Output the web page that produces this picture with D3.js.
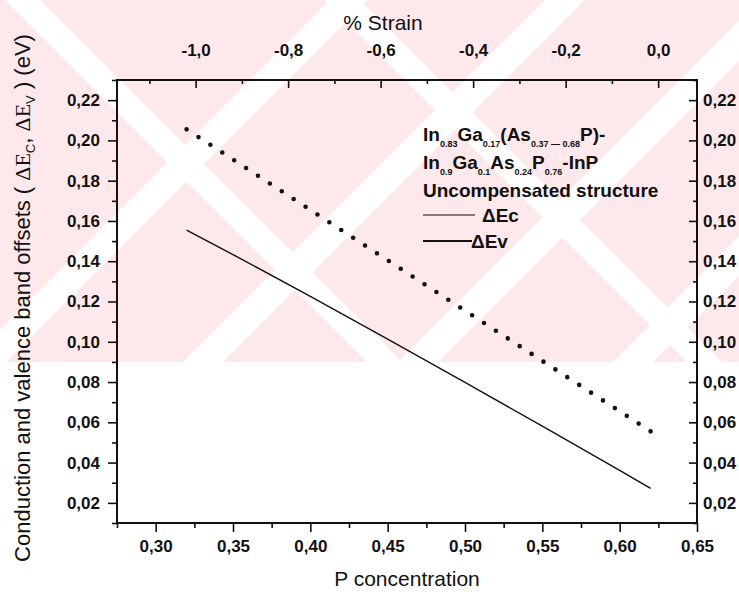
<!DOCTYPE html>
<html>
<head>
<meta charset="utf-8">
<script src="https://cdn.jsdelivr.net/npm/d3@7"></script>
<style>
  body { margin: 0; background: #fff; }
  svg { display: block; }
</style>
</head>
<body>
<svg id="chart" width="739" height="596"></svg>
<script>
// Phosphorus concentration in the well material and the band offsets it gives
const pConcentration = [0.32, 0.35, 0.40, 0.45, 0.50, 0.55, 0.60, 0.62];
const deltaEc = [0.1555, 0.1433, 0.1226, 0.1013, 0.0798, 0.0581, 0.0361, 0.0272];
const deltaEv = [0.2055, 0.1905, 0.1655, 0.1405, 0.1155, 0.0905, 0.0655, 0.0555];

// Axis ticks
const xTicks = [0.30, 0.35, 0.40, 0.45, 0.50, 0.55, 0.60, 0.65];
const yTicks = [0.02, 0.04, 0.06, 0.08, 0.10, 0.12, 0.14, 0.16, 0.18, 0.20, 0.22];
const strainTicks = [-1.0, -0.8, -0.6, -0.4, -0.2, 0.0];
const xDomain = [0.275, 0.65];
const yDomain = [0.01, 0.23];
const strainDomain = [-1.17, 0.084];

const svg = d3.select("#chart");
const W = 739, H = 596;
const plot = { left: 117, right: 697, top: 80, bottom: 523 };

const x = d3.scaleLinear().domain(xDomain).range([plot.left, plot.right]);
const y = d3.scaleLinear().domain(yDomain).range([plot.bottom, plot.top]);
const strain = d3.scaleLinear().domain(strainDomain).range([plot.left, plot.right]);

const locale = d3.formatLocale({ decimal: ",", thousands: ".", grouping: [3], currency: ["", ""], minus: "-" });
const f2 = locale.format(".2f");
const f1 = locale.format(".1f");

const SANS = "'Liberation Sans', Arial, Helvetica, sans-serif";
const SERIF = "'Liberation Serif', 'Times New Roman', serif";

// ---- background watermark band ----
const wm = svg.append("g");
wm.append("clipPath").attr("id", "wmclip")
  .append("rect").attr("x", 0).attr("y", 0).attr("width", W).attr("height", 362);
const wmg = wm.append("g").attr("clip-path", "url(#wmclip)");
wmg.append("rect").attr("x", 0).attr("y", 0).attr("width", W).attr("height", 362).attr("fill", "#fde8ec");
// white diagonal gaps ("/" : x + y = c, "\" : y - x = d)
const slashGaps = [[330, 368], [545, 585], [760, 800], [975, 1015]];
const backGaps = [[-40, -5], [-360, -325]];
slashGaps.forEach(([c0, c1]) => {
  wmg.append("polygon").attr("fill", "#fff")
    .attr("points", [[c0, 0], [c1, 0], [c1 - 800, 800], [c0 - 800, 800]].map(p => p.join(",")).join(" "));
});
backGaps.forEach(([d0, d1]) => {
  wmg.append("polygon").attr("fill", "#fff")
    .attr("points", [[-d0, 0], [-d1, 0], [800 - d1, 800], [800 - d0, 800]].map(p => p.join(",")).join(" "));
});

// ---- axes ----
const tickFont = sel => sel.selectAll("text")
  .attr("font-family", SANS).attr("font-size", 17).attr("font-weight", "bold").attr("fill", "#111");
const cleanAxis = sel => { sel.select(".domain").remove(); sel.selectAll("line").attr("stroke", "#111").attr("stroke-width", 1.6); };

// bottom
svg.append("g").attr("transform", `translate(0,${plot.bottom})`)
  .call(d3.axisBottom(x).tickValues(d3.range(0.275, 0.651, 0.05)).tickSize(5).tickFormat(""))
  .call(cleanAxis);
svg.append("g").attr("transform", `translate(0,${plot.bottom})`)
  .call(d3.axisBottom(x).tickValues(xTicks).tickSize(9).tickPadding(8).tickFormat(f2))
  .call(cleanAxis).call(tickFont);

// left
svg.append("g").attr("transform", `translate(${plot.left},0)`)
  .call(d3.axisLeft(y).tickValues(d3.range(0.01, 0.231, 0.02)).tickSize(5).tickFormat(""))
  .call(cleanAxis);
svg.append("g").attr("transform", `translate(${plot.left},0)`)
  .call(d3.axisLeft(y).tickValues(yTicks).tickSize(9).tickPadding(8).tickFormat(f2))
  .call(cleanAxis).call(tickFont);

// right (ticks pointing inward)
svg.append("g").attr("transform", `translate(${plot.right},0)`)
  .call(d3.axisRight(y).tickValues(d3.range(0.01, 0.231, 0.02)).tickSizeInner(-4).tickSizeOuter(0).tickFormat(""))
  .call(cleanAxis);
svg.append("g").attr("transform", `translate(${plot.right},0)`)
  .call(d3.axisRight(y).tickValues(yTicks).tickSizeInner(-8).tickSizeOuter(0).tickPadding(6).tickFormat(f2))
  .call(cleanAxis).call(tickFont);

// top: strain (ticks pointing inward)
svg.append("g").attr("transform", `translate(0,${plot.top})`)
  .call(d3.axisTop(strain).tickValues(d3.range(-1.1, 0.05, 0.2)).tickSizeInner(-4).tickSizeOuter(0).tickFormat(""))
  .call(cleanAxis);
svg.append("g").attr("transform", `translate(0,${plot.top})`)
  .call(d3.axisTop(strain).tickValues(strainTicks).tickSizeInner(-8).tickSizeOuter(0).tickPadding(24).tickFormat(f1))
  .call(cleanAxis).call(tickFont);

// frame
svg.append("rect")
  .attr("x", plot.left).attr("y", plot.top)
  .attr("width", plot.right - plot.left).attr("height", plot.bottom - plot.top)
  .attr("fill", "none").attr("stroke", "#111").attr("stroke-width", 2);

// ---- axis titles ----
svg.append("text").attr("x", 407).attr("y", 586).attr("text-anchor", "middle")
  .attr("font-family", SANS).attr("font-size", 21).attr("fill", "#111").text("P concentration");
svg.append("text").attr("x", 383).attr("y", 30).attr("text-anchor", "middle")
  .attr("font-family", SANS).attr("font-size", 21).attr("fill", "#111").text("% Strain");

const yt = svg.append("text")
  .attr("transform", "translate(30,298) rotate(-90)")
  .attr("text-anchor", "middle")
  .attr("font-family", SANS).attr("font-size", 22).attr("fill", "#111");
yt.append("tspan").text("Conduction and valence band offsets ( ");
yt.append("tspan").attr("font-family", SERIF).text("ΔE");
yt.append("tspan").attr("font-size", 13).attr("dy", 5).text("C");
yt.append("tspan").attr("dy", -5).text(", ");
yt.append("tspan").attr("font-family", SERIF).text("ΔE");
yt.append("tspan").attr("font-size", 13).attr("dy", 5).text("V");
yt.append("tspan").attr("dy", -5).text(" ) (eV)");

// ---- data lines ----
const line = d3.line().x(d => x(d[0])).y(d => y(d[1]));

svg.append("path")
  .datum(pConcentration.map((p, i) => [p, deltaEc[i]]))
  .attr("d", line).attr("fill", "none").attr("stroke", "#111").attr("stroke-width", 1.4);

// valence band offset drawn as a round-dotted line, 40 dots end to end
const ev = svg.append("path")
  .datum(pConcentration.map((p, i) => [p, deltaEv[i]]))
  .attr("d", line).attr("fill", "none").attr("stroke", "#111")
  .attr("stroke-width", 4.6).attr("stroke-linecap", "round");
const evLen = ev.node().getTotalLength();
ev.attr("stroke-dasharray", `0 ${(evLen - 0.05) / 39}`);

// ---- legend ----
const legend = svg.append("g").attr("font-family", SANS).attr("font-weight", "bold").attr("fill", "#111");
function richLine(xp, yp, parts) {
  const t = legend.append("text").attr("x", xp).attr("y", yp).attr("font-size", 19);
  let down = false;
  parts.forEach(p => {
    const sub = typeof p !== "string";
    const s = t.append("tspan").text(sub ? p.sub : p);
    if (sub) { s.attr("font-size", 9); if (!down) { s.attr("dy", 6); down = true; } }
    else if (down) { s.attr("dy", -6); down = false; }
  });
}
richLine(423, 141, ["In", { sub: "0.83" }, "Ga", { sub: "0.17" }, "(As", { sub: "0.37 — 0.68" }, "P)-"]);
richLine(423, 169, ["In", { sub: "0.9" }, "Ga", { sub: "0.1" }, "As", { sub: "0.24" }, "P", { sub: "0.76" }, "-InP"]);
richLine(423, 197, ["Uncompensated structure"]);

legend.append("line").attr("x1", 423).attr("x2", 475).attr("y1", 215).attr("y2", 215)
  .attr("stroke", "#111").attr("stroke-width", 1.2);
legend.append("text").attr("x", 482).attr("y", 222).attr("font-size", 19).text("ΔEc");
legend.append("line").attr("x1", 423).attr("x2", 472).attr("y1", 241).attr("y2", 241)
  .attr("stroke", "#111").attr("stroke-width", 2);
legend.append("text").attr("x", 471).attr("y", 248).attr("font-size", 19).text("ΔEv");
</script>
</body>
</html>
